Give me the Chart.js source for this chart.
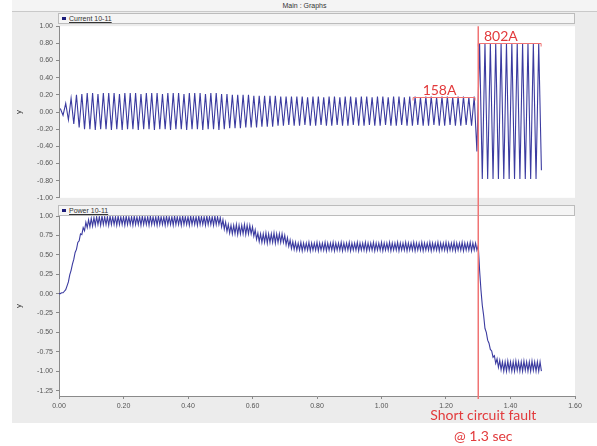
<!DOCTYPE html>
<html>
<head>
<meta charset="utf-8">
<script src="https://cdn.jsdelivr.net/npm/chart.js@4.4.1/dist/chart.umd.min.js"></script>
<style>
  html, body { margin: 0; padding: 0; background: #fff; }
  #frame { position: absolute; left: 12px; top: 0; width: 585px; height: 423px; background: #ececec; }
  #header { position: absolute; left: 12px; top: 0; width: 585px; height: 11px; background: #f4f4f4;
            border-bottom: 1px solid #c9c9c9; font: 7px "Liberation Sans", sans-serif; color: #333;
            text-align: center; line-height: 11px; }
  .strip { position: absolute; left: 58px; width: 515px; height: 9px; background: #f5f5f5;
           border: 1px solid #bcbcbc; font: 7px "Liberation Sans", sans-serif; color: #333; line-height: 9px; }
  .strip .sq { display: inline-block; width: 4px; height: 3px; background: #1c1c7a; margin: 0 3px 0 3px; vertical-align: 1px; }
  .strip .lb { text-decoration: underline; }
  canvas { position: absolute; left: 12px; }
</style>
</head>
<body>
<div id="frame"></div>
<div id="header">Main : Graphs</div>
<div class="strip" style="top:13px"><span class="sq"></span><span class="lb">Current 10-11</span></div>
<div class="strip" style="top:205px"><span class="sq"></span><span class="lb">Power 10-11</span></div>
<canvas id="currentChart" width="585" height="186" style="top:19px"></canvas>
<canvas id="powerChart" width="585" height="241" style="top:205px"></canvas>
<script>
// time axis (seconds)
const xTicks = [0, 0.2, 0.4, 0.6, 0.8, 1.0, 1.2, 1.4, 1.6];
const faultTime = 1.3;
const mainsHz = 60;

// current: positive and negative peak of each 60 Hz cycle
const curPeak = [
  0.04, 0.10, 0.16, 0.20, 0.21, 0.22, 0.22, 0.21, 0.22, 0.22,
  0.22, 0.21, 0.22, 0.22, 0.22, 0.21, 0.22, 0.22, 0.22, 0.21,
  0.22, 0.22, 0.22, 0.21, 0.22, 0.22, 0.22, 0.21, 0.22, 0.22,
  0.21, 0.21, 0.20, 0.20, 0.20, 0.20, 0.19, 0.19, 0.19, 0.19,
  0.19, 0.18, 0.18, 0.18, 0.18, 0.18, 0.17, 0.18, 0.18, 0.17,
  0.18, 0.18, 0.17, 0.18, 0.18, 0.17, 0.18, 0.18, 0.17, 0.18,
  0.18, 0.17, 0.18, 0.18, 0.17, 0.18, 0.18, 0.17, 0.18, 0.18,
  0.17, 0.18, 0.18, 0.17, 0.18, 0.18, 0.17, 0.18, 0.80, 0.80,
  0.80, 0.80, 0.80, 0.80, 0.80, 0.80, 0.80, 0.80, 0.80, 0.80
];
const curTrough = [
  -0.04, -0.09, -0.14, -0.18, -0.20, -0.20, -0.21, -0.20, -0.20, -0.21,
  -0.20, -0.21, -0.20, -0.20, -0.21, -0.20, -0.20, -0.21, -0.20, -0.20,
  -0.21, -0.20, -0.20, -0.21, -0.20, -0.20, -0.21, -0.20, -0.20, -0.21,
  -0.20, -0.19, -0.19, -0.19, -0.18, -0.18, -0.18, -0.17, -0.17, -0.17,
  -0.16, -0.16, -0.15, -0.16, -0.16, -0.15, -0.16, -0.16, -0.15, -0.16,
  -0.16, -0.15, -0.16, -0.16, -0.15, -0.16, -0.16, -0.15, -0.16, -0.16,
  -0.15, -0.16, -0.16, -0.15, -0.16, -0.16, -0.15, -0.16, -0.16, -0.15,
  -0.16, -0.16, -0.15, -0.16, -0.16, -0.15, -0.16, -0.46, -0.78, -0.78,
  -0.78, -0.78, -0.78, -0.78, -0.78, -0.78, -0.78, -0.78, -0.78, -0.68
];

// power: upper and lower edge of each 120 Hz ripple period
const rippleHz = 120;
const powerHi = [
  0.00, 0.01, 0.03, 0.10, 0.24, 0.38, 0.53, 0.66, 0.77, 0.85, 0.92, 0.95,
  0.97, 0.98, 0.99, 0.99, 1.00, 0.99, 0.99, 1.00, 0.99, 0.99, 1.00, 0.99,
  0.99, 1.00, 0.99, 0.99, 1.00, 0.99, 0.99, 1.00, 0.99, 0.99, 1.00, 0.99,
  0.99, 1.00, 0.99, 0.99, 1.00, 0.99, 0.99, 1.00, 0.99, 0.99, 1.00, 0.99,
  0.99, 1.00, 0.99, 0.99, 1.00, 0.99, 0.99, 1.00, 0.99, 0.99, 1.00, 0.99,
  0.98, 0.95, 0.92, 0.89, 0.88, 0.88, 0.89, 0.88, 0.88, 0.89, 0.88, 0.88,
  0.86, 0.82, 0.78, 0.77, 0.77, 0.78, 0.77, 0.77, 0.78, 0.77, 0.77, 0.77,
  0.75, 0.72, 0.69, 0.67, 0.66, 0.65, 0.66, 0.65, 0.65, 0.66, 0.65, 0.65,
  0.66, 0.65, 0.65, 0.66, 0.65, 0.65, 0.66, 0.65, 0.65, 0.66, 0.65, 0.65,
  0.66, 0.65, 0.65, 0.66, 0.65, 0.65, 0.66, 0.65, 0.65, 0.66, 0.65, 0.65,
  0.66, 0.65, 0.65, 0.66, 0.65, 0.65, 0.66, 0.65, 0.65, 0.66, 0.65, 0.65,
  0.66, 0.65, 0.65, 0.66, 0.65, 0.65, 0.66, 0.65, 0.65, 0.66, 0.65, 0.65,
  0.66, 0.65, 0.65, 0.66, 0.65, 0.65, 0.66, 0.65, 0.65, 0.66, 0.65, 0.65,
  0.62, 0.05, -0.28, -0.50, -0.64, -0.74, -0.80, -0.84, -0.86, -0.88, -0.88, -0.87,
  -0.88, -0.88, -0.87, -0.88, -0.88, -0.87, -0.88, -0.88, -0.87, -0.88, -0.88, -0.88
];
const powerLo = [
  0.00, 0.01, 0.05, 0.15, 0.30, 0.44, 0.57, 0.68, 0.76, 0.81, 0.85, 0.86,
  0.87, 0.88, 0.89, 0.88, 0.89, 0.89, 0.88, 0.89, 0.89, 0.88, 0.89, 0.89,
  0.88, 0.89, 0.89, 0.88, 0.89, 0.89, 0.88, 0.89, 0.89, 0.88, 0.89, 0.89,
  0.88, 0.89, 0.89, 0.88, 0.89, 0.89, 0.88, 0.89, 0.89, 0.88, 0.89, 0.89,
  0.88, 0.89, 0.89, 0.88, 0.89, 0.89, 0.88, 0.89, 0.89, 0.88, 0.89, 0.89,
  0.86, 0.83, 0.80, 0.78, 0.77, 0.77, 0.76, 0.77, 0.77, 0.76, 0.77, 0.77,
  0.74, 0.70, 0.67, 0.66, 0.66, 0.65, 0.66, 0.66, 0.65, 0.66, 0.66, 0.66,
  0.63, 0.61, 0.58, 0.57, 0.56, 0.56, 0.55, 0.56, 0.56, 0.55, 0.56, 0.56,
  0.55, 0.56, 0.56, 0.55, 0.56, 0.56, 0.55, 0.56, 0.56, 0.55, 0.56, 0.56,
  0.55, 0.56, 0.56, 0.55, 0.56, 0.56, 0.55, 0.56, 0.56, 0.55, 0.56, 0.56,
  0.55, 0.56, 0.56, 0.55, 0.56, 0.56, 0.55, 0.56, 0.56, 0.55, 0.56, 0.56,
  0.55, 0.56, 0.56, 0.55, 0.56, 0.56, 0.55, 0.56, 0.56, 0.55, 0.56, 0.56,
  0.55, 0.56, 0.56, 0.55, 0.56, 0.56, 0.55, 0.56, 0.56, 0.55, 0.56, 0.56,
  0.30, -0.15, -0.45, -0.60, -0.72, -0.82, -0.90, -0.95, -0.98, -1.00, -1.00, -0.99,
  -1.00, -1.00, -0.99, -1.00, -1.00, -0.99, -1.00, -1.00, -0.99, -1.00, -1.00, -1.00
];

const currentTicks = [-1.0, -0.8, -0.6, -0.4, -0.2, 0, 0.2, 0.4, 0.6, 0.8, 1.0];
const powerTicks = [-1.25, -1.0, -0.75, -0.5, -0.25, 0, 0.25, 0.5, 0.75, 1.0];

const current = [];
for (let n = 0; n < curPeak.length; n++) {
  current.push({ x: (n + 0.25) / mainsHz, y: curPeak[n] });
  current.push({ x: (n + 0.75) / mainsHz, y: curTrough[n] });
}
const power = [];
for (let k = 0; k < powerHi.length; k++) {
  power.push({ x: k / rippleHz, y: powerHi[k] });
  power.push({ x: (k + 0.5) / rippleHz, y: powerLo[k] });
}

const traceColor = '#3b3ba0';
const faultRed = '#f07474';
const textRed = '#e23a3c';
const smallFont = { family: 'Liberation Sans', size: 7 };

const faultPlugin = {
  id: 'fault',
  beforeDraw(chart) {
    const { ctx, chartArea: a } = chart;
    ctx.save();
    ctx.fillStyle = '#fff';
    ctx.fillRect(a.left, a.top, a.right - a.left, a.bottom - a.top);
    ctx.restore();
  },
  afterDatasetsDraw(chart, args, opts) {
    const { ctx, chartArea: a, scales } = chart;
    const x = scales.x.getPixelForValue(faultTime);
    ctx.save();
    ctx.strokeStyle = faultRed;
    ctx.lineWidth = 1.5;
    ctx.beginPath();
    ctx.moveTo(x, opts.fromTop ? 0 : a.top);
    ctx.lineTo(x, opts.fromTop ? a.bottom + 3 : chart.height);
    ctx.stroke();

    ctx.font = '14px Lato, "Open Sans", sans-serif';
    ctx.textBaseline = 'alphabetic';
    ctx.textAlign = 'center';
    (opts.notes || []).forEach(n => {
      const x0 = scales.x.getPixelForValue(n.from);
      const x1 = scales.x.getPixelForValue(n.to);
      const y = Math.round(scales.y.getPixelForValue(n.value)) + 0.5;
      ctx.strokeStyle = faultRed;
      ctx.lineWidth = 1;
      ctx.beginPath();
      ctx.moveTo(x0, y + 3); ctx.lineTo(x0, y); ctx.lineTo(x1, y); ctx.lineTo(x1, y + 3);
      ctx.stroke();
      ctx.fillStyle = textRed;
      ctx.fillText(n.text, scales.x.getPixelForValue(n.textAt), y - 3);
    });
    (opts.caption || []).forEach((line, i) => {
      ctx.fillStyle = textRed;
      ctx.fillText(line, x + 5, a.bottom + 24 + i * 21);
    });
    ctx.restore();
  }
};

function yAxis(min, max, step, ticks) {
  return {
    min: min, max: max,
    afterFit: s => { s.width = 47; },
    afterBuildTicks: s => { s.ticks = ticks.map(v => ({ value: v })); },
    title: { display: true, text: 'y', color: '#333', font: { family: 'Liberation Sans', size: 8 }, padding: 2 },
    border: { display: true, color: '#8a8a8a' },
    grid: { drawOnChartArea: false, drawTicks: true, tickLength: 3, color: '#8a8a8a' },
    ticks: { stepSize: step, color: '#555', font: smallFont, padding: 3, callback: v => v.toFixed(2) }
  };
}

function xAxis(show) {
  return {
    type: 'linear', min: 0, max: 1.6, display: show,
    afterFit: s => { s.height = show ? 27 : 0; },
    afterBuildTicks: s => { s.ticks = xTicks.map(v => ({ value: v })); },
    border: { display: true, color: '#8a8a8a' },
    grid: { drawOnChartArea: false, drawTicks: true, tickLength: 3, color: '#8a8a8a' },
    ticks: { color: '#555', font: smallFont, padding: 3, maxRotation: 0, callback: v => v.toFixed(2) }
  };
}

const baseOptions = {
  responsive: false,
  animation: false,
  events: [],
  plugins: { legend: { display: false }, tooltip: { enabled: false } }
};

new Chart(document.getElementById('currentChart'), {
  type: 'line',
  data: { datasets: [{ data: current, borderColor: traceColor, borderWidth: 1.1, pointRadius: 0, tension: 0 }] },
  options: Object.assign({}, baseOptions, {
    layout: { padding: { top: 6, bottom: 6, right: 22, left: 0 } },
    scales: { x: xAxis(false), y: yAxis(-1, 1, 0.2, currentTicks) },
    plugins: Object.assign({}, baseOptions.plugins, {
      fault: {
        fromTop: false,
        notes: [
          { text: '158A', from: 1.098, to: 1.29, value: 0.175, textAt: 1.18 },
          { text: '802A', from: 1.3, to: 1.495, value: 0.805, textAt: 1.37 }
        ]
      }
    })
  }),
  plugins: [faultPlugin]
});

new Chart(document.getElementById('powerChart'), {
  type: 'line',
  data: { datasets: [{ data: power, borderColor: traceColor, borderWidth: 1.1, pointRadius: 0, tension: 0 }] },
  options: Object.assign({}, baseOptions, {
    layout: { padding: { top: 11, bottom: 23, right: 22, left: 0 } },
    scales: { x: xAxis(true), y: yAxis(-1.32, 1, 0.25, powerTicks) },
    plugins: Object.assign({}, baseOptions.plugins, {
      fault: { fromTop: true, caption: ['Short circuit fault', '@ 1.3 sec'] }
    })
  }),
  plugins: [faultPlugin]
});
</script>
</body>
</html>
